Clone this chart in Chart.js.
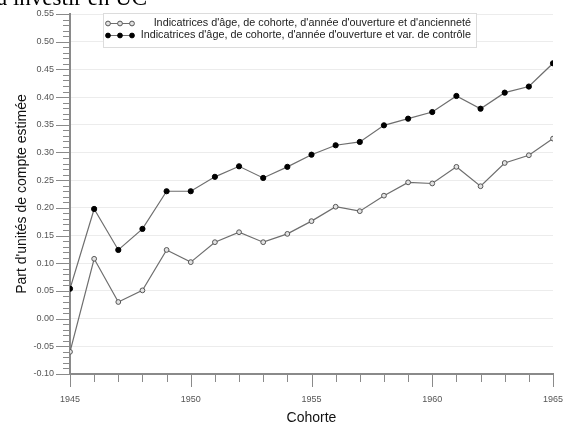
<!DOCTYPE html>
<html>
<head>
<meta charset="utf-8">
<script src="https://cdn.jsdelivr.net/npm/chart.js@4"></script>
<style>
  body { margin: 0; background: #fff; overflow: hidden; }
  #wrap { position: relative; width: 563px; height: 427px; }
  #topText { position: absolute; left: -3px; top: -15px; font: 23px "Liberation Serif", serif; color: #000; white-space: nowrap; }
  canvas { position: absolute; left: 0; top: 0; }
</style>
</head>
<body>
<div id="wrap">
  <canvas id="chart" width="563" height="427"></canvas>
  <div id="topText">à investir en UC</div>
</div>
<script>
// ---------------- DATA ----------------
const cohorts = [1945, 1946, 1947, 1948, 1949, 1950, 1951, 1952, 1953, 1954, 1955,
                 1956, 1957, 1958, 1959, 1960, 1961, 1962, 1963, 1964, 1965];
const seriesLabels = [
  "Indicatrices d'âge, de cohorte, d'année d'ouverture et d'ancienneté",
  "Indicatrices d'âge, de cohorte, d'année d'ouverture et var. de contrôle"
];
const seriesAnc = [-0.060, 0.108, 0.030, 0.051, 0.124, 0.102, 0.138, 0.156, 0.138, 0.153, 0.176,
                   0.202, 0.194, 0.222, 0.246, 0.244, 0.274, 0.239, 0.281, 0.295, 0.325];
const seriesCtrl = [0.054, 0.198, 0.124, 0.162, 0.230, 0.230, 0.256, 0.275, 0.254, 0.274, 0.296,
                    0.313, 0.319, 0.349, 0.361, 0.373, 0.402, 0.379, 0.408, 0.419, 0.461];
const xTitle = "Cohorte";
const yTitle = "Part d'unités de compte estimée";

const LINE = "#6e6e6e";
const AXIS = "#8a8a8a";

// ---------------- MINOR / MAJOR TICK MARKS ----------------
const tickMarks = {
  id: "tickMarks",
  afterDraw(chart) {
    const ctx = chart.ctx;
    const x = chart.scales.x, y = chart.scales.y;
    const area = chart.chartArea;
    ctx.save();
    ctx.strokeStyle = AXIS;
    ctx.lineWidth = 1;
    for (let i = 0; i <= 65; i++) {
      const v = -0.10 + i * 0.01;
      const py = Math.round(y.getPixelForValue(v)) + 0.5;
      const len = i % 5 === 0 ? 12 : 5;
      ctx.beginPath();
      ctx.moveTo(area.left - 2 - len, py);
      ctx.lineTo(area.left - 1, py);
      ctx.stroke();
    }
    for (let yr = 1945; yr <= 1965; yr++) {
      const px = Math.round(x.getPixelForValue(yr)) + 0.5;
      const len = yr % 5 === 0 ? 11 : 6;
      ctx.beginPath();
      ctx.moveTo(px, area.bottom + 1);
      ctx.lineTo(px, area.bottom + 2 + len);
      ctx.stroke();
    }
    ctx.restore();
  }
};

// ---------------- LEGEND INSIDE PLOT ----------------
const boxLegend = {
  id: "boxLegend",
  afterDraw(chart) {
    const ctx = chart.ctx;
    const left = 103, top = 13, right = 477, bottom = 48;
    ctx.save();
    ctx.fillStyle = "#fff";
    ctx.fillRect(left, top, right - left, bottom - top);
    ctx.strokeStyle = "#dcdcdc";
    ctx.lineWidth = 1;
    ctx.strokeRect(left + 0.5, top + 0.5, right - left - 1, bottom - top - 1);
    ctx.font = '10.8px "Liberation Sans", sans-serif';
    ctx.textAlign = "right";
    ctx.textBaseline = "middle";
    chart.data.datasets.forEach((ds, i) => {
      const ry = 23.5 + i * 12;
      ctx.strokeStyle = LINE;
      ctx.lineWidth = 1;
      ctx.beginPath();
      ctx.moveTo(108, ry);
      ctx.lineTo(132, ry);
      ctx.stroke();
      [108, 120, 132].forEach(cx => {
        ctx.beginPath();
        ctx.arc(cx, ry, 2.4, 0, Math.PI * 2);
        ctx.fillStyle = ds.pointBackgroundColor;
        ctx.fill();
        ctx.strokeStyle = ds.pointBorderColor;
        ctx.stroke();
      });
      ctx.fillStyle = "#222";
      ctx.fillText(ds.label, 471, ry);
    });
    ctx.restore();
  }
};

new Chart(document.getElementById("chart"), {
  type: "line",
  data: {
    labels: cohorts,
    datasets: [
      {
        label: seriesLabels[0],
        data: cohorts.map((c, i) => ({ x: c, y: seriesAnc[i] })),
        borderColor: LINE,
        borderWidth: 1.2,
        pointRadius: 2.4,
        pointBackgroundColor: "#e2e2e2",
        pointBorderColor: "#555",
        pointBorderWidth: 1,
        tension: 0
      },
      {
        label: seriesLabels[1],
        data: cohorts.map((c, i) => ({ x: c, y: seriesCtrl[i] })),
        borderColor: LINE,
        borderWidth: 1.2,
        pointRadius: 2.6,
        pointBackgroundColor: "#000",
        pointBorderColor: "#000",
        pointBorderWidth: 1,
        tension: 0
      }
    ]
  },
  options: {
    responsive: false,
    animation: false,
    devicePixelRatio: 1,
    layout: { padding: { top: 14, right: 10, left: 0, bottom: 0 } },
    plugins: {
      legend: { display: false },
      tooltip: { enabled: false }
    },
    scales: {
      x: {
        type: "linear",
        min: 1945,
        max: 1965,
        afterFit(scale) {
          scale.height = 53;
          scale.paddingLeft = 0;
          scale.paddingRight = 0;
        },
        ticks: {
          stepSize: 1,
          autoSkip: false,
          maxRotation: 0,
          padding: 20,
          color: "#555",
          font: { family: "Liberation Sans", size: 9 },
          callback: v => (v % 5 === 0 ? String(v) : "")
        },
        grid: { display: false, drawTicks: false },
        border: { display: true, color: AXIS, width: 2 },
        title: {
          display: true,
          text: xTitle,
          color: "#111",
          font: { family: "Liberation Sans", size: 14 },
          padding: { top: 0, bottom: 0 }
        }
      },
      y: {
        min: -0.10,
        max: 0.55,
        afterFit(scale) {
          scale.width = 70;
          scale.paddingTop = 0;
          scale.paddingBottom = 0;
        },
        ticks: {
          stepSize: 0.05,
          padding: 16,
          color: "#555",
          font: { family: "Liberation Sans", size: 9 },
          callback: v => (Math.abs(v) < 1e-9 ? "0.00" : v.toFixed(2))
        },
        grid: { color: "#ececec", lineWidth: 1, drawTicks: false },
        border: { display: true, color: AXIS, width: 2 },
        title: {
          display: true,
          text: yTitle,
          color: "#111",
          font: { family: "Liberation Sans", size: 14 },
          padding: { top: 14, bottom: 0 }
        }
      }
    }
  },
  plugins: [tickMarks, boxLegend]
});
</script>
</body>
</html>
